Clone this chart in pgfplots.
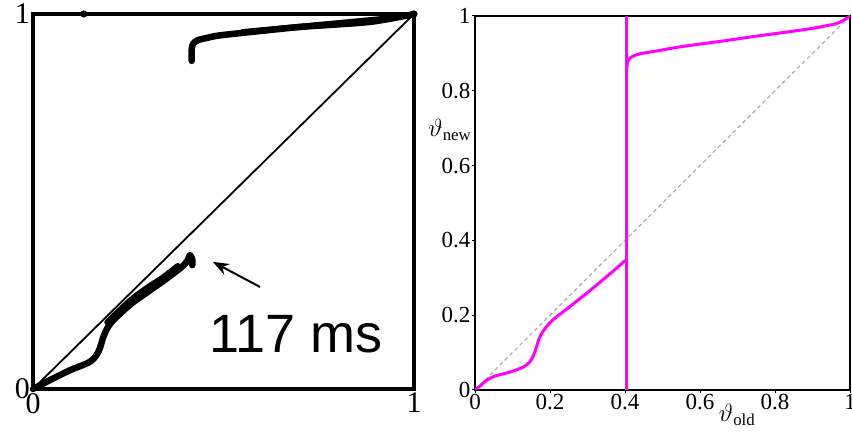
\documentclass[border=0pt]{standalone}
\usepackage{pgfplots}
\pgfplotsset{compat=1.18}
\usepackage{amsmath}
\usepackage{fontspec}
\setmainfont{Liberation Serif}
\newfontfamily\arialfont{Liberation Sans}
\usetikzlibrary{arrows.meta}
\definecolor{curvemag}{RGB}{255,0,255}

\begin{document}
\begin{tikzpicture}
\path[use as bounding box] (0pt,0pt) rectangle (852pt,435pt);

% left panel (scanned original)
\begin{axis}[
  at={(33pt,46pt)}, anchor=south west,
  scale only axis, width=381pt, height=375pt,
  xmin=0, xmax=1, ymin=0, ymax=1,
  axis line style={line width=4.5pt},
  xtick={0,1}, ytick={0,1},
  major tick length=0pt,
  tick label style={font=\fontsize{30}{30}\selectfont, inner sep=2pt},
  xticklabel style={yshift=-2pt},
  yticklabel style={xshift=-1pt},
  /pgf/number format/assume math mode=true,
  clip=false,
]
\addplot[black, line width=1.8pt] coordinates {(0,0) (1,1)};
\addplot[black, line width=6.5pt, line cap=round, line join=round, smooth] coordinates {
  (0,0) (0.045,0.024) (0.097,0.05) (0.15,0.073) (0.172,0.1) (0.187,0.145)
  (0.206,0.178) (0.255,0.225) (0.3,0.258) (0.342,0.288) (0.39,0.325)
  (0.405,0.342) (0.412,0.357) (0.418,0.345) (0.418,0.33)};
\addplot[black, line width=6pt, line cap=round, smooth] coordinates {
  (0.195,0.178) (0.255,0.236) (0.3,0.27) (0.342,0.298) (0.38,0.328)};
\addplot[black, line width=6.5pt, line cap=round, line join=round, smooth] coordinates {
  (0.4165,0.875) (0.4165,0.905) (0.42,0.92) (0.432,0.93) (0.46,0.937)
  (0.491,0.943) (0.6,0.955) (0.709,0.966) (0.885,0.979) (1,1)};
\addplot[black, line width=5pt, line cap=round] coordinates {(0.55,0.953) (1,0.996)};
\addplot[black, only marks, mark=*, mark size=3.3pt] coordinates {(0.133,1) (1,1)};
\draw[-{Stealth[length=16pt,width=12pt]}, line width=2pt]
  (axis cs:0.596,0.272) -- (axis cs:0.472,0.339);
\node[font=\arialfont\fontsize{54}{54}\selectfont] at (axis cs:0.69,0.147) {117 ms};
\end{axis}

% right panel (model)
\begin{axis}[
  at={(475pt,45pt)}, anchor=south west,
  scale only axis, width=375pt, height=374pt,
  xmin=0, xmax=1, ymin=0, ymax=1,
  axis line style={line width=2.4pt},
  xtick={0,0.2,0.4,0.6,0.8,1}, ytick={0,0.2,0.4,0.6,0.8,1},
  tick align=outside, tick pos=left,
  major tick length=3pt, tick style={line width=1pt, black},
  tick label style={font=\fontsize{23}{23}\selectfont, inner sep=1.5pt},
  /pgf/number format/assume math mode=true,
  xlabel={\fontsize{24}{24}\selectfont$\vartheta_{\text{old}}$},
  ylabel={\fontsize{24}{24}\selectfont$\vartheta_{\text{new}}$},
  xlabel style={at={(axis description cs:0.699,-0.067)}, anchor=center},
  ylabel style={at={(axis description cs:-0.067,0.695)}, rotate=-90, anchor=center},
]
\addplot[gray!65, dash pattern=on 4pt off 3pt, line width=1.2pt] coordinates {(0,0) (1,1)};
\addplot[curvemag, line width=3pt, smooth] coordinates {
  (0,0) (0.015,0.012) (0.031,0.026) (0.05,0.036) (0.067,0.041) (0.09,0.047)
  (0.111,0.054) (0.13,0.062) (0.145,0.074) (0.155,0.09) (0.163,0.112)
  (0.172,0.14) (0.185,0.162) (0.207,0.187) (0.253,0.223) (0.298,0.259)
  (0.351,0.303) (0.387,0.334) (0.398,0.344) (0.404,0.347)};
\addplot[curvemag, line width=3pt] coordinates {(0.405,0) (0.405,1)};
\addplot[curvemag, line width=3pt, smooth] coordinates {
  (0.405,0.86) (0.407,0.877) (0.412,0.886) (0.422,0.893) (0.44,0.899)
  (0.476,0.905) (0.55,0.918) (0.653,0.932) (0.75,0.946) (0.831,0.957)
  (0.9,0.967) (0.947,0.976) (0.97,0.982) (0.985,0.99) (1,1)};
\end{axis}
\end{tikzpicture}
\end{document}
